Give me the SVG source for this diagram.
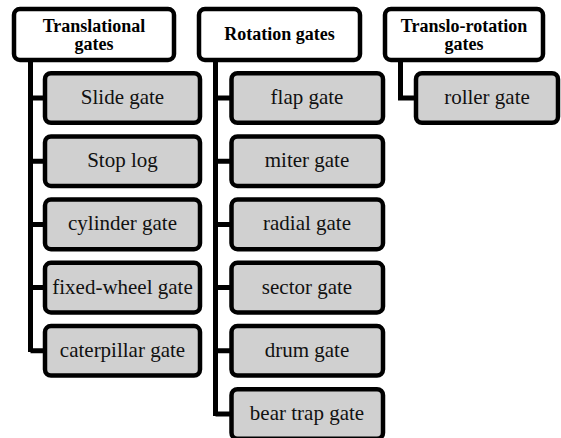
<svg xmlns="http://www.w3.org/2000/svg" id="root" width="561" height="438" viewBox="0 0 561 438" font-family="Liberation Serif, serif">
<style>
svg#root g text, svg#root text, text { font-family: "Liberation Serif", "Times New Roman", serif !important; }
.hd { fill: #fff; stroke: #000; stroke-width: 4.5; }
.ch { fill: #d0d0d0; stroke: #000; stroke-width: 4.5; }
.cn { fill: none; stroke: #000; stroke-width: 5; }
svg#root .ht { font-weight: bold; font-size: 18px; text-anchor: middle; fill: #000; }
svg#root .ct { font-size: 21px; text-anchor: middle; fill: #111; }
</style>
<rect width="561" height="438" fill="#fff"/>
<g id="connectors">
<path class="cn" d="M30.5 60 V352 M30.5 98 H45 M30.5 161.2 H45 M30.5 224.4 H45 M30.5 287.6 H45 M30.5 350.8 H45"/>
<path class="cn" d="M215.5 60 V416 M215.5 98 H231 M215.5 161.2 H231 M215.5 224.4 H231 M215.5 287.6 H231 M215.5 350.8 H231 M215.5 414 H231"/>
<path class="cn" d="M400.5 60 V98 H416"/>
</g>
<g id="translational">
<rect class="hd" x="14" y="9" width="160" height="51" rx="6"/>
<text class="ht" x="94" y="31.5" font-family="Liberation Serif">Translational</text>
<text class="ht" x="94" y="50" font-family="Liberation Serif">gates</text>
</g>
<g id="rotation">
<rect class="hd" x="199" y="9" width="161" height="51" rx="6"/>
<text class="ht" x="279.5" y="39.5" font-family="Liberation Serif">Rotation gates</text>
</g>
<g id="translo-rotation">
<rect class="hd" x="385" y="9" width="158" height="51" rx="6"/>
<text class="ht" x="464" y="31.5" font-family="Liberation Serif">Translo-rotation</text>
<text class="ht" x="464" y="49.5" font-family="Liberation Serif">gates</text>
</g>
<g id="slide"><rect class="ch" x="45" y="73.2" width="155" height="49.6" rx="6"/><text class="ct" x="122.5" y="104" font-family="Liberation Serif">Slide gate</text></g>
<g id="stoplog"><rect class="ch" x="45" y="136.4" width="155" height="49.6" rx="6"/><text class="ct" x="122.5" y="167.2" font-family="Liberation Serif">Stop log</text></g>
<g id="cylinder"><rect class="ch" x="45" y="199.6" width="155" height="49.6" rx="6"/><text class="ct" x="122.5" y="230.4" font-family="Liberation Serif">cylinder gate</text></g>
<g id="fixedwheel"><rect class="ch" x="45" y="262.8" width="155" height="49.6" rx="6"/><text class="ct" x="122.5" y="293.6" font-family="Liberation Serif">fixed-wheel gate</text></g>
<g id="caterpillar"><rect class="ch" x="45" y="326" width="155" height="49.6" rx="6"/><text class="ct" x="122.5" y="356.8" font-family="Liberation Serif">caterpillar gate</text></g>
<g id="flap"><rect class="ch" x="231.5" y="73.2" width="151.5" height="49.6" rx="6"/><text class="ct" x="307" y="104" font-family="Liberation Serif">flap gate</text></g>
<g id="miter"><rect class="ch" x="231.5" y="136.4" width="151.5" height="49.6" rx="6"/><text class="ct" x="307" y="167.2" font-family="Liberation Serif">miter gate</text></g>
<g id="radial"><rect class="ch" x="231.5" y="199.6" width="151.5" height="49.6" rx="6"/><text class="ct" x="307" y="230.4" font-family="Liberation Serif">radial gate</text></g>
<g id="sector"><rect class="ch" x="231.5" y="262.8" width="151.5" height="49.6" rx="6"/><text class="ct" x="307" y="293.6" font-family="Liberation Serif">sector gate</text></g>
<g id="drum"><rect class="ch" x="231.5" y="326" width="151.5" height="49.6" rx="6"/><text class="ct" x="307" y="356.8" font-family="Liberation Serif">drum gate</text></g>
<g id="beartrap"><rect class="ch" x="231.5" y="389.2" width="151.5" height="49.6" rx="6"/><text class="ct" x="307" y="420" font-family="Liberation Serif">bear trap gate</text></g>
<g id="roller"><rect class="ch" x="416" y="73.2" width="142" height="49.6" rx="6"/><text class="ct" x="487" y="104" font-family="Liberation Serif">roller gate</text></g>
</svg>
